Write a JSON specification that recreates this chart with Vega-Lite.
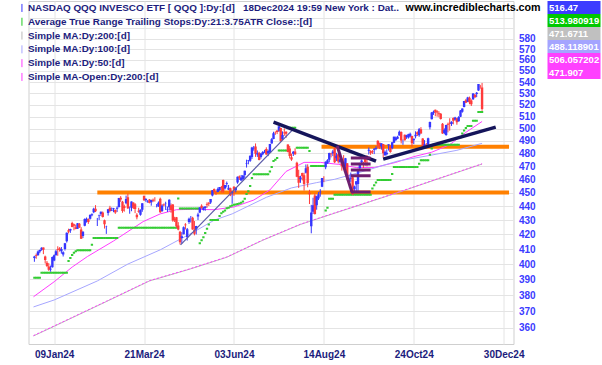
{
"$schema":"https://vega.github.io/schema/vega-lite/v6.json",
"autosize":{"type":"pad"},
"padding":{"left":16.5,"top":0,"right":2,"bottom":2},
"background":"white",
"config":{"font":"Liberation Sans","view":{"stroke":null},"line":{"strokeWidth":1}},
"datasets":{
"ohlc":[
{"i":-11,"o":404.0,"h":405.5,"l":401.5,"c":405.0},{"i":-10,"o":405.9,"h":407.0,"l":403.5,"c":405.3},{"i":-9,"o":405.9,"h":409.0,"l":405.6,"c":408.4},{"i":-8,"o":408.3,"h":409.6,"l":407.2,"c":409.3},{"i":-7,"o":409.5,"h":411.2,"l":408.9,"c":410.9},{"i":-6,"o":411.0,"h":411.1,"l":406.6,"c":409.5},{"i":-5,"o":405.0,"h":405.6,"l":400.4,"c":402.6},{"i":-4,"o":400.8,"h":402.0,"l":398.0,"c":398.7},{"i":-3,"o":398.4,"h":400.6,"l":395.5,"c":396.3},{"i":-2,"o":396.5,"h":399.0,"l":395.0,"c":396.9},{"i":-1,"o":397.9,"h":405.0,"l":397.7,"c":404.6},
{"i":0,"o":402.3,"h":406.4,"l":401.9,"c":405.8},{"i":1,"o":405.8,"h":409.6,"l":405.7,"c":408.6},{"i":2,"o":410.0,"h":411.9,"l":405.5,"c":409.6},{"i":3,"o":410.5,"h":411.3,"l":408.3,"c":409.6},{"i":4,"o":408.5,"h":411.4,"l":406.9,"c":410.0},{"i":5,"o":406.4,"h":408.5,"l":405.0,"c":407.8},{"i":6,"o":410.0,"h":414.2,"l":409.0,"c":413.9},{"i":7,"o":415.3,"h":421.4,"l":414.4,"c":421.2},{"i":8,"o":423.0,"h":424.0,"l":420.7,"c":421.9},{"i":9,"o":422.7,"h":424.0,"l":421.1,"c":423.8},
{"i":10,"o":428.0,"h":428.9,"l":425.0,"c":425.2},{"i":11,"o":427.2,"h":427.5,"l":422.9,"c":426.0},{"i":12,"o":425.0,"h":426.8,"l":423.6,"c":423.8},{"i":13,"o":424.0,"h":428.0,"l":423.8,"c":427.9},{"i":14,"o":427.4,"h":428.0,"l":424.5,"c":424.9},{"i":15,"o":423.5,"h":425.1,"l":416.9,"c":417.0},{"i":16,"o":418.9,"h":422.3,"l":417.5,"c":421.8},{"i":17,"o":426.0,"h":431.3,"l":425.7,"c":430.8},{"i":18,"o":429.8,"h":431.9,"l":428.3,"c":431.0},{"i":19,"o":430.6,"h":431.3,"l":427.4,"c":428.8},
{"i":20,"o":431.0,"h":433.9,"l":430.5,"c":433.8},{"i":21,"o":433.5,"h":434.9,"l":432.8,"c":434.3},{"i":22,"o":435.7,"h":438.9,"l":435.0,"c":438.2},{"i":23,"o":438.2,"h":440.8,"l":435.8,"c":436.4},{"i":24,"o":429.0,"h":431.6,"l":425.9,"c":429.1},{"i":25,"o":433.1,"h":434.0,"l":430.1,"c":433.6},{"i":26,"o":434.5,"h":436.2,"l":433.1,"c":436.1},{"i":27,"o":435.4,"h":436.2,"l":431.9,"c":432.2},{"i":28,"o":429.9,"h":430.4,"l":424.1,"c":427.1},{"i":29,"o":425.4,"h":426.1,"l":420.4,"c":425.6},
{"i":30,"o":435.2,"h":438.0,"l":433.3,"c":437.8},{"i":31,"o":439.0,"h":440.3,"l":435.7,"c":436.5},{"i":32,"o":436.9,"h":439.1,"l":436.5,"c":437.2},{"i":33,"o":437.9,"h":438.8,"l":435.7,"c":438.6},{"i":34,"o":437.3,"h":437.7,"l":434.5,"c":435.4},{"i":35,"o":438.1,"h":439.9,"l":435.8,"c":439.0},{"i":36,"o":439.4,"h":446.1,"l":439.0,"c":446.0},{"i":37,"o":446.3,"h":447.4,"l":443.2,"c":445.0},{"i":38,"o":443.2,"h":443.9,"l":435.3,"c":436.6},{"i":39,"o":440.0,"h":441.1,"l":436.1,"c":438.7},
{"i":40,"o":442.2,"h":447.8,"l":441.5,"c":445.3},{"i":41,"o":446.5,"h":449.3,"l":438.0,"c":438.6},{"i":42,"o":437.2,"h":439.8,"l":434.6,"c":437.3},{"i":43,"o":439.0,"h":443.5,"l":436.4,"c":443.5},{"i":44,"o":442.7,"h":442.8,"l":438.0,"c":438.9},{"i":45,"o":441.4,"h":442.3,"l":435.0,"c":438.0},{"i":46,"o":433.9,"h":435.0,"l":430.6,"c":432.1},{"i":47,"o":436.8,"h":438.9,"l":435.3,"c":436.0},{"i":48,"o":433.8,"h":437.7,"l":433.2,"c":437.4},{"i":49,"o":437.4,"h":442.2,"l":436.0,"c":442.2},
{"i":50,"o":447.6,"h":447.6,"l":443.9,"c":444.3},{"i":51,"o":444.4,"h":446.0,"l":443.2,"c":445.2},{"i":52,"o":443.0,"h":444.5,"l":442.6,"c":443.5},{"i":53,"o":445.0,"h":445.3,"l":442.1,"c":442.3},{"i":54,"o":443.0,"h":444.8,"l":440.4,"c":444.5},{"i":55,"o":444.8,"h":445.6,"l":443.0,"c":444.0},{"i":56,"o":445.3,"h":446.6,"l":443.4,"c":445.2},{"i":57,"o":441.2,"h":441.6,"l":439.2,"c":441.3},{"i":58,"o":439.8,"h":443.5,"l":439.6,"c":442.5},{"i":59,"o":445.4,"h":446.3,"l":435.2,"c":435.6},
{"i":60,"o":436.5,"h":441.5,"l":435.9,"c":440.5},{"i":61,"o":441.3,"h":442.0,"l":440.0,"c":440.8},{"i":62,"o":442.2,"h":443.3,"l":437.3,"c":442.3},{"i":63,"o":437.4,"h":439.8,"l":435.9,"c":437.9},{"i":64,"o":439.3,"h":445.1,"l":436.9,"c":444.7},{"i":65,"o":440.8,"h":442.0,"l":435.3,"c":437.2},{"i":66,"o":441.3,"h":441.6,"l":428.9,"c":429.7},{"i":67,"o":431.0,"h":432.4,"l":428.7,"c":430.0},{"i":68,"o":432.1,"h":432.3,"l":424.6,"c":425.8},{"i":69,"o":426.3,"h":428.6,"l":422.9,"c":423.4},
{"i":70,"o":421.9,"h":422.5,"l":413.1,"c":414.7},{"i":71,"o":417.5,"h":421.6,"l":413.7,"c":418.8},{"i":72,"o":420.2,"h":425.6,"l":420.1,"c":425.0},{"i":73,"o":427.0,"h":427.9,"l":423.5,"c":426.5},{"i":74,"o":418.0,"h":424.5,"l":415.8,"c":423.6},{"i":75,"o":428.8,"h":431.8,"l":427.4,"c":431.0},{"i":76,"o":432.4,"h":433.0,"l":428.3,"c":432.5},{"i":77,"o":431.8,"h":432.4,"l":423.3,"c":423.4},{"i":78,"o":423.3,"h":429.4,"l":419.4,"c":420.5},{"i":79,"o":423.6,"h":426.0,"l":420.0,"c":425.9},
{"i":80,"o":432.7,"h":435.3,"l":430.1,"c":434.0},{"i":81,"o":435.4,"h":439.2,"l":435.0,"c":439.2},{"i":82,"o":440.3,"h":441.4,"l":438.2,"c":438.6},{"i":83,"o":437.5,"h":439.7,"l":436.9,"c":438.9},{"i":84,"o":438.7,"h":440.0,"l":436.7,"c":439.9},{"i":85,"o":441.6,"h":442.8,"l":438.9,"c":441.0},{"i":86,"o":442.6,"h":443.0,"l":440.2,"c":441.9},{"i":87,"o":442.7,"h":445.3,"l":441.7,"c":445.3},{"i":88,"o":447.8,"h":451.9,"l":447.2,"c":451.8},{"i":89,"o":452.6,"h":453.1,"l":450.1,"c":450.6},
{"i":90,"o":450.4,"h":450.6,"l":448.3,"c":450.3},{"i":91,"o":450.4,"h":453.8,"l":450.3,"c":452.6},{"i":92,"o":451.8,"h":454.1,"l":451.4,"c":454.1},{"i":93,"o":454.0,"h":455.0,"l":450.0,"c":453.5},{"i":94,"o":459.5,"h":459.8,"l":449.7,"c":451.0},{"i":95,"o":453.0,"h":455.7,"l":452.3,"c":455.6},{"i":96,"o":456.6,"h":458.3,"l":454.0,"c":457.1},{"i":97,"o":452.2,"h":455.7,"l":451.8,"c":453.7},{"i":98,"o":453.3,"h":453.7,"l":447.4,"c":448.0},{"i":99,"o":449.8,"h":450.7,"l":441.8,"c":450.7},
{"i":100,"o":454.4,"h":454.8,"l":447.6,"c":452.2},{"i":101,"o":451.7,"h":454.0,"l":450.2,"c":453.4},{"i":102,"o":457.6,"h":462.1,"l":456.6,"c":461.9},{"i":103,"o":462.2,"h":462.9,"l":459.5,"c":461.2},{"i":104,"o":459.1,"h":463.3,"l":458.9,"c":461.4},{"i":105,"o":460.0,"h":463.3,"l":459.1,"c":462.8},{"i":106,"o":463.2,"h":466.6,"l":460.6,"c":466.6},{"i":107,"o":472.2,"h":475.1,"l":469.0,"c":472.6},{"i":108,"o":474.4,"h":474.9,"l":471.5,"c":474.9},{"i":109,"o":474.3,"h":478.4,"l":473.4,"c":478.2},
{"i":110,"o":477.3,"h":485.3,"l":475.7,"c":484.8},{"i":111,"o":484.0,"h":486.0,"l":482.2,"c":484.5},{"i":112,"o":485.6,"h":488.0,"l":477.3,"c":479.7},{"i":113,"o":479.1,"h":482.4,"l":477.3,"c":480.2},{"i":114,"o":480.6,"h":481.3,"l":474.6,"c":474.8},{"i":115,"o":477.2,"h":480.2,"l":475.9,"c":480.0},{"i":116,"o":479.4,"h":481.9,"l":478.6,"c":481.1},{"i":117,"o":481.3,"h":482.9,"l":480.4,"c":481.6},{"i":118,"o":483.5,"h":484.9,"l":479.0,"c":479.1},{"i":119,"o":479.9,"h":483.0,"l":477.9,"c":482.0},
{"i":120,"o":480.7,"h":487.6,"l":480.4,"c":487.6},{"i":121,"o":488.0,"h":492.3,"l":487.9,"c":491.3},{"i":122,"o":491.6,"h":497.5,"l":491.4,"c":496.2},{"i":123,"o":497.1,"h":497.8,"l":495.0,"c":496.9},{"i":124,"o":498.5,"h":498.6,"l":495.6,"c":497.3},{"i":125,"o":498.4,"h":502.0,"l":497.3,"c":502.0},{"i":126,"o":500.6,"h":501.0,"l":489.4,"c":489.7},{"i":127,"o":491.5,"h":497.8,"l":490.8,"c":494.8},{"i":128,"o":496.8,"h":500.3,"l":494.2,"c":496.2},{"i":129,"o":497.6,"h":497.9,"l":492.6,"c":495.9},
{"i":130,"o":487.1,"h":487.3,"l":480.9,"c":481.1},{"i":131,"o":484.0,"h":486.0,"l":476.1,"c":478.0},{"i":132,"o":477.1,"h":479.9,"l":474.2,"c":475.2},{"i":133,"o":479.8,"h":482.0,"l":478.0,"c":481.3},{"i":134,"o":481.5,"h":484.1,"l":478.9,"c":479.3},{"i":135,"o":472.7,"h":473.5,"l":461.6,"c":462.0},{"i":136,"o":462.5,"h":467.3,"l":453.5,"c":457.3},{"i":137,"o":460.0,"h":462.7,"l":457.3,"c":461.3},{"i":138,"o":464.7,"h":465.0,"l":459.1,"c":462.3},{"i":139,"o":463.0,"h":465.0,"l":451.5,"c":456.4},
{"i":140,"o":465.0,"h":471.4,"l":464.4,"c":468.5},{"i":141,"o":469.7,"h":471.5,"l":454.0,"c":457.0},{"i":142,"o":449.9,"h":452.1,"l":441.6,"c":448.8},{"i":143,"o":425.7,"h":441.0,"l":420.8,"c":435.4},{"i":144,"o":436.0,"h":446.2,"l":434.5,"c":440.7},{"i":145,"o":447.8,"h":449.3,"l":434.0,"c":434.5},{"i":146,"o":440.8,"h":447.7,"l":437.5,"c":447.1},{"i":147,"o":445.7,"h":450.4,"l":444.5,"c":448.7},{"i":148,"o":450.3,"h":452.6,"l":447.0,"c":450.6},{"i":149,"o":454.3,"h":461.0,"l":454.1,"c":460.9},
{"i":150,"o":461.6,"h":462.3,"l":457.8,"c":461.5},{"i":151,"o":469.3,"h":473.8,"l":467.7,"c":473.5},{"i":152,"o":472.2,"h":475.5,"l":471.9,"c":474.7},{"i":153,"o":475.0,"h":480.6,"l":473.0,"c":480.3},{"i":154,"o":480.0,"h":480.5,"l":476.9,"c":479.4},{"i":155,"o":480.0,"h":482.9,"l":477.9,"c":481.6},{"i":156,"o":484.2,"h":484.8,"l":472.5,"c":473.2},{"i":157,"o":476.3,"h":480.5,"l":474.0,"c":478.3},{"i":158,"o":479.4,"h":480.0,"l":472.2,"c":473.7},{"i":159,"o":473.3,"h":476.7,"l":472.1,"c":475.5},
{"i":160,"o":475.6,"h":476.0,"l":466.6,"c":469.9},{"i":161,"o":473.5,"h":478.7,"l":468.3,"c":469.7},{"i":162,"o":470.5,"h":476.5,"l":468.3,"c":476.3},{"i":163,"o":472.4,"h":472.4,"l":459.4,"c":461.1},{"i":164,"o":458.6,"h":463.5,"l":458.3,"c":460.6},{"i":165,"o":460.5,"h":465.2,"l":458.0,"c":461.1},{"i":166,"o":461.6,"h":463.0,"l":448.3,"c":448.7},{"i":167,"o":452.7,"h":455.2,"l":450.3,"c":454.6},{"i":168,"o":456.0,"h":458.7,"l":451.1,"c":458.5},{"i":169,"o":456.4,"h":468.1,"l":450.5,"c":467.9},
{"i":170,"o":468.5,"h":472.7,"l":466.0,"c":472.4},{"i":171,"o":473.0,"h":475.3,"l":472.3,"c":474.5},{"i":172,"o":473.0,"h":473.5,"l":468.7,"c":472.8},{"i":173,"o":476.5,"h":477.4,"l":470.4,"c":473.1},{"i":174,"o":472.8,"h":478.6,"l":469.9,"c":471.5},{"i":175,"o":482.2,"h":484.7,"l":479.2,"c":483.0},{"i":176,"o":481.8,"h":482.6,"l":478.9,"c":480.4},{"i":177,"o":482.0,"h":482.7,"l":479.6,"c":481.3},{"i":178,"o":483.0,"h":484.3,"l":479.5,"c":483.8},{"i":179,"o":483.6,"h":485.8,"l":482.6,"c":484.1},
{"i":180,"o":490.1,"h":490.5,"l":484.2,"c":486.9},{"i":181,"o":488.5,"h":488.5,"l":483.6,"c":485.4},{"i":182,"o":485.5,"h":488.1,"l":483.0,"c":488.1},{"i":183,"o":487.5,"h":487.6,"l":476.9,"c":480.2},{"i":184,"o":478.6,"h":482.4,"l":478.2,"c":481.4},{"i":185,"o":479.4,"h":483.3,"l":478.5,"c":480.6},{"i":186,"o":486.3,"h":487.3,"l":482.3,"c":487.3},{"i":187,"o":486.0,"h":486.2,"l":480.6,"c":481.2},{"i":188,"o":484.1,"h":489.0,"l":483.3,"c":488.9},{"i":189,"o":488.5,"h":493.6,"l":488.3,"c":493.4},
{"i":190,"o":490.6,"h":493.6,"l":490.2,"c":492.8},{"i":191,"o":491.8,"h":494.2,"l":491.4,"c":493.4},{"i":192,"o":494.5,"h":498.5,"l":494.4,"c":497.5},{"i":193,"o":497.3,"h":497.8,"l":488.0,"c":490.4},{"i":194,"o":490.3,"h":491.2,"l":486.9,"c":490.4},{"i":195,"o":495.0,"h":495.2,"l":490.3,"c":490.6},{"i":196,"o":493.2,"h":495.0,"l":491.7,"c":494.5},{"i":197,"o":492.8,"h":495.9,"l":491.9,"c":495.4},{"i":198,"o":493.6,"h":496.8,"l":492.8,"c":495.8},{"i":199,"o":494.1,"h":494.3,"l":485.4,"c":488.1},
{"i":200,"o":490.6,"h":492.0,"l":487.5,"c":491.8},{"i":201,"o":493.8,"h":497.9,"l":492.1,"c":495.0},{"i":202,"o":497.0,"h":497.8,"l":494.0,"c":495.5},{"i":203,"o":494.7,"h":500.6,"l":493.4,"c":499.5},{"i":204,"o":499.6,"h":501.3,"l":495.9,"c":496.1},{"i":205,"o":491.9,"h":492.3,"l":483.5,"c":483.8},{"i":206,"o":485.8,"h":490.7,"l":484.8,"c":487.4},{"i":207,"o":486.7,"h":488.3,"l":484.1,"c":486.0},{"i":208,"o":486.9,"h":492.7,"l":486.8,"c":492.2},{"i":209,"o":501.3,"h":505.9,"l":499.4,"c":505.6},
{"i":210,"o":507.9,"h":514.0,"l":507.8,"c":513.5},{"i":211,"o":513.2,"h":515.2,"l":511.5,"c":514.1},{"i":212,"o":515.9,"h":516.0,"l":510.4,"c":513.8},{"i":213,"o":514.6,"h":515.5,"l":510.0,"c":513.5},{"i":214,"o":513.0,"h":514.6,"l":509.6,"c":512.0},{"i":215,"o":512.4,"h":513.1,"l":507.6,"c":508.0},{"i":216,"o":504.2,"h":504.7,"l":495.8,"c":496.1},{"i":217,"o":496.4,"h":500.3,"l":495.5,"c":499.2},{"i":218,"o":494.9,"h":503.3,"l":494.2,"c":503.1},{"i":219,"o":504.0,"h":505.0,"l":497.0,"c":503.2},
{"i":220,"o":505.0,"h":508.7,"l":498.4,"c":504.1},{"i":221,"o":504.0,"h":506.2,"l":502.3,"c":505.8},{"i":222,"o":509.0,"h":509.4,"l":503.6,"c":506.6},{"i":223,"o":507.4,"h":509.9,"l":506.6,"c":509.3},{"i":224,"o":508.7,"h":508.9,"l":503.3,"c":505.3},{"i":225,"o":506.1,"h":510.5,"l":505.8,"c":509.7},{"i":226,"o":509.9,"h":515.6,"l":509.7,"c":515.3},{"i":227,"o":514.1,"h":517.0,"l":513.4,"c":516.9},{"i":228,"o":518.3,"h":523.3,"l":517.9,"c":523.3},{"i":229,"o":524.0,"h":525.2,"l":521.6,"c":521.8},
{"i":230,"o":522.7,"h":527.0,"l":522.4,"c":526.5},{"i":231,"o":526.1,"h":527.2,"l":520.6,"c":522.4},{"i":232,"o":523.9,"h":524.8,"l":519.1,"c":520.6},{"i":233,"o":524.8,"h":530.2,"l":524.3,"c":529.9},{"i":234,"o":528.8,"h":529.5,"l":526.5,"c":526.5},{"i":235,"o":529.5,"h":531.2,"l":526.7,"c":530.5},{"i":236,"o":532.6,"h":538.2,"l":532.2,"c":538.2},{"i":237,"o":536.1,"h":537.5,"l":534.1,"c":535.8},{"i":238,"o":535.1,"h":539.2,"l":515.0,"c":516.5}
],
"stops":[
{"i":-11,"s":391},{"i":-10,"s":391},{"i":-9,"s":391},{"i":-8,"s":391},{"i":-7,"s":394.3},{"i":-6,"s":394.3},{"i":-5,"s":394.3},{"i":-4,"s":394.3},{"i":-3,"s":394.3},{"i":-2,"s":394.3},{"i":-1,"s":394.3},{"i":0,"s":394.3},{"i":1,"s":394.3},{"i":2,"s":394.3},{"i":3,"s":394.3},{"i":4,"s":394.3},{"i":5,"s":394.3},{"i":6,"s":394.3},{"i":7,"s":394.3},
{"i":8,"s":402},{"i":9,"s":404},{"i":10,"s":406},{"i":11,"s":407.5},{"i":12,"s":408.5},{"i":13,"s":409.2},{"i":14,"s":409.2},{"i":15,"s":409.2},{"i":16,"s":409.2},{"i":17,"s":409.2},{"i":18,"s":409.2},{"i":19,"s":409.2},{"i":20,"s":409.2},{"i":21,"s":413},
{"i":22,"s":417.5},{"i":23,"s":417.5},{"i":24,"s":417.5},{"i":25,"s":417.5},{"i":26,"s":417.5},{"i":27,"s":417.5},{"i":28,"s":417.5},{"i":29,"s":417.5},{"i":30,"s":417.5},{"i":31,"s":417.5},{"i":32,"s":417.5},{"i":33,"s":417.5},{"i":34,"s":417.5},{"i":35,"s":417.5},
{"i":36,"s":424.7},{"i":37,"s":424.7},{"i":38,"s":424.7},{"i":39,"s":424.7},{"i":40,"s":424.7},{"i":41,"s":424.7},{"i":42,"s":424.7},{"i":43,"s":424.7},{"i":44,"s":424.7},{"i":45,"s":424.7},{"i":46,"s":424.7},{"i":47,"s":424.7},{"i":48,"s":424.7},{"i":49,"s":424.7},{"i":50,"s":424.7},{"i":51,"s":424.7},{"i":52,"s":424.7},{"i":53,"s":424.7},{"i":54,"s":424.7},{"i":55,"s":424.7},{"i":56,"s":424.7},{"i":57,"s":424.7},{"i":58,"s":424.7},{"i":59,"s":424.7},{"i":60,"s":424.7},{"i":61,"s":424.7},{"i":62,"s":424.7},{"i":63,"s":424.7},{"i":64,"s":424.7},{"i":65,"s":424.7},{"i":66,"s":424.7},{"i":67,"s":424.7},{"i":68,"s":424.7},
{"i":69,"s":445.7},{"i":70,"s":438.3},{"i":71,"s":438.3},{"i":72,"s":438.3},{"i":73,"s":438.3},{"i":74,"s":438.3},{"i":75,"s":438.3},{"i":76,"s":438.3},{"i":77,"s":438.3},{"i":78,"s":438.3},{"i":79,"s":438.3},{"i":80,"s":438.3},
{"i":81,"s":414},{"i":82,"s":416},{"i":83,"s":418},{"i":84,"s":421},{"i":85,"s":424},{"i":86,"s":427},{"i":87,"s":430.1},{"i":88,"s":430.1},{"i":89,"s":430.1},{"i":90,"s":430.1},{"i":91,"s":430.1},
{"i":92,"s":433},{"i":93,"s":435},{"i":94,"s":436},{"i":95,"s":437},{"i":96,"s":438.5},{"i":97,"s":439},{"i":98,"s":440},{"i":99,"s":440.5},{"i":100,"s":441},{"i":101,"s":441.3},{"i":102,"s":441.6},{"i":103,"s":442},{"i":104,"s":442.5},{"i":105,"s":443.5},{"i":106,"s":445.5},{"i":107,"s":449},{"i":108,"s":451},{"i":109,"s":455},{"i":110,"s":461},
{"i":111,"s":463.8},{"i":112,"s":463.8},{"i":113,"s":463.8},{"i":114,"s":463.8},{"i":115,"s":463.8},{"i":116,"s":463.8},{"i":117,"s":463.8},{"i":118,"s":463.8},{"i":119,"s":463.8},
{"i":120,"s":466},{"i":121,"s":469.5},{"i":122,"s":474},{"i":123,"s":475},{"i":124,"s":476.4},{"i":125,"s":482.4},{"i":126,"s":482.4},{"i":127,"s":482.4},{"i":128,"s":482.4},{"i":129,"s":482.4},
{"i":130,"s":500.8},{"i":131,"s":500.8},{"i":132,"s":500.8},{"i":133,"s":500.8},{"i":134,"s":500.8},{"i":135,"s":484.5},{"i":136,"s":484.5},{"i":137,"s":484.5},{"i":138,"s":484.5},{"i":139,"s":484.5},{"i":140,"s":484.5},{"i":141,"s":484.5},{"i":142,"s":482},
{"i":143,"s":470.1},{"i":144,"s":470.1},{"i":145,"s":470.1},{"i":146,"s":470.1},{"i":147,"s":470.1},{"i":148,"s":470.1},{"i":149,"s":470.1},{"i":150,"s":470.1},
{"i":151,"s":437},{"i":152,"s":439},{"i":153,"s":445.5},{"i":154,"s":445.5},{"i":155,"s":445.5},
{"i":156,"s":448.5},{"i":157,"s":448.5},{"i":158,"s":448.5},{"i":159,"s":448.5},{"i":160,"s":448.5},{"i":161,"s":448.5},{"i":162,"s":448.5},{"i":163,"s":448.5},{"i":164,"s":448.5},{"i":165,"s":448.5},{"i":166,"s":448.5},{"i":167,"s":448.5},{"i":168,"s":448.5},{"i":169,"s":448.5},{"i":170,"s":448.5},{"i":171,"s":448.5},{"i":172,"s":448.5},{"i":173,"s":448.5},{"i":174,"s":448.5},{"i":175,"s":448.5},{"i":176,"s":448.5},
{"i":177,"s":453},{"i":178,"s":455.5},{"i":179,"s":457.5},{"i":180,"s":459.5},{"i":181,"s":459.5},{"i":182,"s":459.5},{"i":183,"s":459.5},{"i":184,"s":459.5},{"i":185,"s":459.5},{"i":186,"s":459.5},{"i":187,"s":459.5},{"i":188,"s":464},
{"i":189,"s":469.5},{"i":190,"s":469.5},{"i":191,"s":469.5},{"i":192,"s":469.5},{"i":193,"s":469.5},{"i":194,"s":469.5},{"i":195,"s":469.5},{"i":196,"s":469.5},{"i":197,"s":469.5},{"i":198,"s":469.5},{"i":199,"s":469.5},{"i":200,"s":469.5},{"i":201,"s":469.5},{"i":202,"s":469.5},
{"i":203,"s":472},{"i":204,"s":474.6},{"i":205,"s":474.6},{"i":206,"s":474.6},{"i":207,"s":474.6},{"i":208,"s":474.6},{"i":209,"s":479},{"i":210,"s":484},
{"i":211,"s":487},{"i":212,"s":487},{"i":213,"s":487},{"i":214,"s":487},{"i":215,"s":487},{"i":216,"s":487},{"i":217,"s":487},{"i":218,"s":487},{"i":219,"s":487},{"i":220,"s":487},{"i":221,"s":487},{"i":222,"s":487},{"i":223,"s":487},{"i":224,"s":487},{"i":225,"s":487},
{"i":226,"s":493},{"i":227,"s":496},{"i":228,"s":498.5},{"i":229,"s":500.5},{"i":230,"s":502.2},{"i":231,"s":502.2},{"i":232,"s":502.2},{"i":233,"s":506.7},{"i":234,"s":506.7},{"i":235,"s":506.7},{"i":236,"s":514},{"i":237,"s":514},{"i":238,"s":514}
],
"ma":[
{"series":"Simple MA:Dy:50:[d]","i":-11.5,"v":379},{"series":"Simple MA:Dy:50:[d]","i":0,"v":388.5},{"series":"Simple MA:Dy:50:[d]","i":10,"v":398},{"series":"Simple MA:Dy:50:[d]","i":18.5,"v":405},{"series":"Simple MA:Dy:50:[d]","i":33,"v":415.5},{"series":"Simple MA:Dy:50:[d]","i":49.5,"v":429},{"series":"Simple MA:Dy:50:[d]","i":59,"v":434.5},{"series":"Simple MA:Dy:50:[d]","i":68,"v":437.5},{"series":"Simple MA:Dy:50:[d]","i":78,"v":437.8},{"series":"Simple MA:Dy:50:[d]","i":89,"v":437.5},{"series":"Simple MA:Dy:50:[d]","i":100,"v":439.5},{"series":"Simple MA:Dy:50:[d]","i":111,"v":444.5},{"series":"Simple MA:Dy:50:[d]","i":120,"v":452},{"series":"Simple MA:Dy:50:[d]","i":129,"v":466},{"series":"Simple MA:Dy:50:[d]","i":139,"v":473},{"series":"Simple MA:Dy:50:[d]","i":148,"v":473},{"series":"Simple MA:Dy:50:[d]","i":158,"v":471.5},{"series":"Simple MA:Dy:50:[d]","i":168,"v":469},{"series":"Simple MA:Dy:50:[d]","i":178,"v":469},{"series":"Simple MA:Dy:50:[d]","i":190,"v":473},{"series":"Simple MA:Dy:50:[d]","i":200,"v":477.5},{"series":"Simple MA:Dy:50:[d]","i":210,"v":481},{"series":"Simple MA:Dy:50:[d]","i":220,"v":487},{"series":"Simple MA:Dy:50:[d]","i":229,"v":497},{"series":"Simple MA:Dy:50:[d]","i":238,"v":506},
{"series":"Simple MA:Dy:100:[d]","i":-11.5,"v":372.7},{"series":"Simple MA:Dy:100:[d]","i":0,"v":377},{"series":"Simple MA:Dy:100:[d]","i":24,"v":389},{"series":"Simple MA:Dy:100:[d]","i":41,"v":400},{"series":"Simple MA:Dy:100:[d]","i":59,"v":409.5},{"series":"Simple MA:Dy:100:[d]","i":78,"v":422},{"series":"Simple MA:Dy:100:[d]","i":89,"v":430},{"series":"Simple MA:Dy:100:[d]","i":99,"v":434.5},{"series":"Simple MA:Dy:100:[d]","i":118,"v":446.5},{"series":"Simple MA:Dy:100:[d]","i":132,"v":453.5},{"series":"Simple MA:Dy:100:[d]","i":146,"v":457.5},{"series":"Simple MA:Dy:100:[d]","i":156,"v":460},{"series":"Simple MA:Dy:100:[d]","i":173,"v":466.5},{"series":"Simple MA:Dy:100:[d]","i":191,"v":474},{"series":"Simple MA:Dy:100:[d]","i":209,"v":478.5},{"series":"Simple MA:Dy:100:[d]","i":224,"v":482.5},{"series":"Simple MA:Dy:100:[d]","i":238,"v":488.1},
{"series":"Simple MA:Dy:200:[d]","i":-11.5,"v":355.3},{"series":"Simple MA:Dy:200:[d]","i":0,"v":361},{"series":"Simple MA:Dy:200:[d]","i":29,"v":376},{"series":"Simple MA:Dy:200:[d]","i":53,"v":389},{"series":"Simple MA:Dy:200:[d]","i":75,"v":396.5},{"series":"Simple MA:Dy:200:[d]","i":96,"v":404.5},{"series":"Simple MA:Dy:200:[d]","i":116,"v":416},{"series":"Simple MA:Dy:200:[d]","i":137,"v":427},{"series":"Simple MA:Dy:200:[d]","i":156,"v":435},{"series":"Simple MA:Dy:200:[d]","i":190,"v":449.5},{"series":"Simple MA:Dy:200:[d]","i":215,"v":461},{"series":"Simple MA:Dy:200:[d]","i":238,"v":471.7}
],
"maopen":[
{"i":-11.5,"v":355.5},{"i":0,"v":361.2},{"i":29,"v":376.2},{"i":53,"v":389.2},{"i":75,"v":396.7},{"i":96,"v":404.7},{"i":116,"v":416.2},{"i":137,"v":427.2},{"i":156,"v":435.2},{"i":190,"v":449.7},{"i":215,"v":461.2},{"i":238,"v":471.9}
],
"orange":[{"i0":24,"i1":253,"v":450},{"i0":148.7,"i1":253,"v":485.3}],
"navy":[{"i0":122,"v0":505.5,"i1":179,"v1":474},{"i0":183,"v0":475.6,"i1":245.6,"v1":501.3}],
"thin":[{"i0":70.3,"v0":412.8,"i1":133,"v1":499.7}],
"purple":[{"i0":157.4,"v0":486,"i1":165.6,"v1":450.4},{"i0":165,"v0":476.4,"i1":176,"v1":476.4},{"i0":165,"v0":471.7,"i1":176,"v1":471.7},{"i0":165,"v0":467.1,"i1":176,"v1":467.1},{"i0":165,"v0":462.6,"i1":176,"v1":462.6},{"i0":165,"v0":450.4,"i1":176,"v1":450.4}],
"boxes":[{"k":"p","label":"516.47"},{"k":"a","label":"513.980919"},{"k":"m200","label":"471.6711"},{"k":"m100","label":"488.118901"},{"k":"m50","label":"506.057202"},{"k":"mo","label":"471.907"}],
"site":[{"k":"p","pos":-0.13,"label":"www.incrediblecharts.com"}]
},
"hconcat":[
{
"width":485,"height":343,
"view":{"stroke":"#cfcfcf"},
"layer":[
{"data":{"name":"orange"},"mark":{"type":"rule","strokeWidth":4,"color":"#ff8000","clip":true},
 "encoding":{
  "x":{"field":"i0","type":"quantitative","title":null,"scale":{"domain":[-11.5,252.7],"nice":false,"zero":false},
   "axis":{"values":[0,50,100,150,200,250],"labelExpr":"datum.value==0?'09Jan24':datum.value==50?'21Mar24':datum.value==100?'03Jun24':datum.value==150?'14Aug24':datum.value==200?'24Oct24':'30Dec24'","grid":true,"gridColor":"#e4e4e4","ticks":false,"domain":false,"labelPadding":5,"labelFontSize":10,"labelFontWeight":"bold","labelColor":"#1c1c7c","labelFont":"Liberation Sans","labelOverlap":false,"labelFlush":false,"title":null}},
  "x2":{"field":"i1"},
  "y":{"field":"v","type":"quantitative","title":null,"scale":{"type":"log","domain":[350.6,617.2],"nice":false,"zero":false},
   "axis":{"orient":"right","values":[360,370,380,390,400,410,420,430,440,450,460,470,480,490,500,510,520,530,540,550,560,570,580,590,600],"labelExpr":"datum.value>585?'':datum.label","format":"d","grid":true,"gridColor":"#e4e4e4","ticks":false,"domain":false,"labelPadding":5,"labelFontSize":10,"labelFontWeight":"bold","labelColor":"#3b3bff","labelFont":"Liberation Sans","labelAlign":"left","labelBaseline":"middle","labelOverlap":false,"labelFlush":false,"title":null}}
 }},
{"data":{"name":"ma"},"mark":{"type":"line","clip":true},
 "encoding":{
  "x":{"field":"i","type":"quantitative","title":null},
  "y":{"field":"v","type":"quantitative","title":null},
  "color":{"field":"series","type":"nominal","scale":{"domain":["NASDAQ QQQ INVESCO ETF [ QQQ ]:Dy:[d]\u00a0\u00a0 18Dec2024 19:59 New York : Dat..","Average True Range Trailing Stops:Dy:21:3.75ATR Close::[d]","Simple MA:Dy:200:[d]","Simple MA:Dy:100:[d]","Simple MA:Dy:50:[d]","Simple MA-Open:Dy:200:[d]"],"range":["#3535ff","#1fc81f","#b9b9b9","#a6a6ff","#ff3cff","#ff3cff"]},
   "legend":{"orient":"none","legendX":-11.5,"legendY":2,"title":null,"symbolType":"M0,-1L0,1","symbolSize":64,"symbolStrokeWidth":4.5,"labelFont":"Liberation Sans","labelFontSize":9.9,"labelFontWeight":"bold","labelColor":"#1d1d7d","labelLimit":600,"rowPadding":0.8,"labelOffset":1,"padding":0,
    "encode":{"symbols":{"update":{"strokeWidth":{"value":4.5},"opacity":{"value":1}}}}}}
 }},
{"data":{"name":"maopen"},"mark":{"type":"line","strokeDash":[2,2],"clip":true},
 "encoding":{
  "x":{"field":"i","type":"quantitative","title":null},
  "y":{"field":"v","type":"quantitative","title":null},
  "color":{"datum":"Simple MA-Open:Dy:200:[d]"}
 }},
{"data":{"name":"stops"},"mark":{"type":"tick","orient":"horizontal","size":2.3,"thickness":2,"color":"#33cc33","opacity":1,"clip":true},
 "encoding":{
  "x":{"field":"i","type":"quantitative","title":null},
  "y":{"field":"s","type":"quantitative","title":null}
 }},
{"data":{"name":"ohlc"},"mark":{"type":"rule","strokeWidth":1,"clip":true},
 "encoding":{
  "x":{"field":"i","type":"quantitative","title":null},
  "y":{"field":"l","type":"quantitative","title":null},
  "y2":{"field":"h"},
  "color":{"condition":{"test":"datum.c >= datum.o","value":"#3535ff"},"value":"#ff3b3b"}
 }},
{"data":{"name":"ohlc"},"mark":{"type":"bar","size":2.4,"clip":true},
 "encoding":{
  "x":{"field":"i","type":"quantitative","title":null},
  "y":{"field":"o","type":"quantitative","title":null},
  "y2":{"field":"c"},
  "color":{"condition":{"test":"datum.c >= datum.o","value":"#3535ff"},"value":"#ff3b3b"}
 }},
{"data":{"name":"thin"},"mark":{"type":"rule","strokeWidth":1.2,"color":"#5b5ba8","clip":true},
 "encoding":{"x":{"field":"i0","type":"quantitative","title":null},"y":{"field":"v0","type":"quantitative","title":null},"x2":{"field":"i1"},"y2":{"field":"v1"}}},
{"data":{"name":"navy"},"mark":{"type":"rule","strokeWidth":3.5,"color":"#15155a","clip":true},
 "encoding":{"x":{"field":"i0","type":"quantitative","title":null},"y":{"field":"v0","type":"quantitative","title":null},"x2":{"field":"i1"},"y2":{"field":"v1"}}},
{"data":{"name":"purple"},"mark":{"type":"rule","strokeWidth":3,"color":"#6e1f70","clip":true},
 "encoding":{"x":{"field":"i0","type":"quantitative","title":null},"y":{"field":"v0","type":"quantitative","title":null},"x2":{"field":"i1"},"y2":{"field":"v1"}}}
]
},
{
"width":53,"height":78,
"view":{"stroke":null},
"layer":[
{"data":{"name":"boxes"},"mark":{"type":"rect"},
 "encoding":{
  "y":{"field":"k","type":"nominal","sort":null,"scale":{"domain":["p","a","m200","m100","m50","mo"],"paddingInner":0,"paddingOuter":0},"axis":null},
  "x":{"datum":0,"type":"quantitative","scale":{"domain":[0,1],"nice":false,"zero":false},"axis":null},
  "x2":{"datum":1},
  "color":{"field":"k","type":"nominal","scale":{"domain":["p","a","m200","m100","m50","mo"],"range":["#3c3cff","#00c800","#c0c0c0","#a4a4ff","#ff40ff","#ff40ff"]},"legend":null}
 }},
{"data":{"name":"boxes"},"mark":{"type":"text","align":"left","dx":1.5,"font":"Liberation Sans","fontSize":9.5,"fontWeight":"bold","color":"#ffffff"},
 "encoding":{
  "y":{"field":"k","type":"nominal","sort":null},
  "x":{"datum":0,"type":"quantitative"},
  "text":{"field":"label"}
 }},
{"data":{"name":"site"},"mark":{"type":"text","align":"right","font":"Liberation Sans","fontSize":10.7,"fontWeight":"bold","color":"#000000"},
 "encoding":{
  "y":{"field":"k","type":"nominal","sort":null},
  "x":{"field":"pos","type":"quantitative"},
  "text":{"field":"label"}
 }}
]
}
],
"spacing":34,
"bounds":"flush",
"resolve":{"scale":{"color":"independent"}}
}
